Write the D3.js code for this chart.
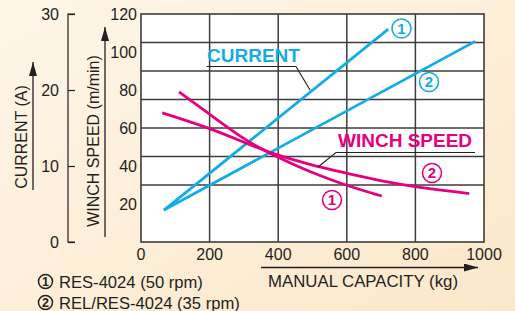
<!DOCTYPE html>
<html>
<head>
<meta charset="utf-8">
<script src="https://cdn.jsdelivr.net/npm/d3@7"></script>
<style>
  html, body { margin: 0; padding: 0; }
  body { width: 515px; height: 311px; overflow: hidden; }
  text { font-family: "Liberation Sans", Arial, Helvetica, sans-serif; }
</style>
</head>
<body>
<div id="chart"></div>
<script>
// Data
const xTicks = [0, 200, 400, 600, 800, 1000];
const winchTicks = [20, 40, 60, 80, 100, 120];
const currentTicks = [0, 10, 20, 30];
const gridRows = [105, 90, 75, 60, 45, 30]; // horizontal grid (winch units)

// current (A) vs capacity (kg)
const current1 = [[67, 4.2], [721, 28.0]];
const current2 = [[67, 4.2], [974, 26.4]];

// winch speed (m/min) vs capacity (kg)
const winch1 = [[111, 79], [200, 67.3], [300, 54], [370, 47], [450, 40.3], [520, 35], [600, 29.6], [702, 24.2]];
const winch2 = [[62, 68], [200, 60], [300, 52.5], [370, 47.3], [450, 43], [522, 39.3], [604, 36], [726, 31.2], [800, 29], [957, 25.5]];

const legendItems = ['RES-4024 (50 rpm)', 'REL/RES-4024 (35 rpm)'];

const W = 515, H = 311;
const plot = { left: 141, right: 484, top: 14, bottom: 242 };
const CYAN = '#13ace6', PINK = '#e5007f', INK = '#231f20', GRID = '#3c3c3c';

const svg = d3.select('#chart').append('svg')
  .attr('width', W).attr('height', H);

// background gradient
const defs = svg.append('defs');
const grad = defs.append('linearGradient').attr('id', 'bg')
  .attr('x1', 0).attr('y1', 0).attr('x2', 1).attr('y2', 1);
grad.append('stop').attr('offset', '0%').attr('stop-color', '#fef6e8');
grad.append('stop').attr('offset', '100%').attr('stop-color', '#fce7c9');
svg.append('rect').attr('width', W).attr('height', H).attr('fill', 'url(#bg)');

const x = d3.scaleLinear().domain([0, 1000]).range([plot.left, plot.right]);
const yW = d3.scaleLinear().domain([0, 120]).range([plot.bottom, plot.top]);
const yC = d3.scaleLinear().domain([0, 30]).range([plot.bottom, plot.top]);

// plot area
svg.append('rect')
  .attr('x', plot.left).attr('y', plot.top)
  .attr('width', plot.right - plot.left).attr('height', plot.bottom - plot.top)
  .attr('fill', '#fff');

const grid = svg.append('g').attr('stroke', GRID).attr('stroke-width', 1.5);
grid.selectAll('.v').data(xTicks.slice(1, -1)).enter().append('line')
  .attr('x1', d => x(d)).attr('x2', d => x(d))
  .attr('y1', plot.top).attr('y2', plot.bottom);
grid.selectAll('.h').data(gridRows).enter().append('line')
  .attr('x1', plot.left).attr('x2', plot.right)
  .attr('y1', d => yW(d)).attr('y2', d => yW(d));
svg.append('rect')
  .attr('x', plot.left).attr('y', plot.top)
  .attr('width', plot.right - plot.left).attr('height', plot.bottom - plot.top)
  .attr('fill', 'none').attr('stroke', GRID).attr('stroke-width', 1.6);

// x axis labels
svg.append('g').selectAll('text').data(xTicks).enter().append('text')
  .attr('x', d => x(d)).attr('y', 260)
  .attr('text-anchor', 'middle').attr('font-size', 16).attr('fill', INK)
  .text(d => d);

// winch axis labels
svg.append('g').selectAll('text').data(winchTicks).enter().append('text')
  .attr('x', 137).attr('y', d => yW(d)).attr('dy', '0.36em')
  .attr('text-anchor', 'end').attr('font-size', 16).attr('fill', INK)
  .text(d => d);

// current axis (bracket style)
const cAxis = svg.append('g')
  .attr('transform', 'translate(68,0)')
  .call(d3.axisRight(yC).tickValues(currentTicks).tickSize(7).tickFormat(''));
cAxis.select('.domain').attr('d', `M7,${plot.top}H0V${plot.bottom}H7`).attr('stroke', INK).attr('stroke-width', 1.2);
cAxis.selectAll('.tick line').attr('stroke', INK).attr('stroke-width', 1.2);
svg.append('g').selectAll('text').data(currentTicks).enter().append('text')
  .attr('x', 59).attr('y', d => yC(d)).attr('dy', '0.36em')
  .attr('text-anchor', 'end').attr('font-size', 16).attr('fill', INK)
  .text(d => d);

// arrows
const marker = defs.append('marker').attr('id', 'arrow')
  .attr('viewBox', '0 0 14 8').attr('refX', 14).attr('refY', 4)
  .attr('markerWidth', 14).attr('markerHeight', 8)
  .attr('markerUnits', 'userSpaceOnUse').attr('orient', 'auto');
marker.append('path').attr('d', 'M0,0L14,4L0,8Z').attr('fill', INK);

function arrow(x1, y1, x2, y2) {
  svg.append('line')
    .attr('x1', x1).attr('y1', y1).attr('x2', x2).attr('y2', y2)
    .attr('stroke', INK).attr('stroke-width', 1.3)
    .attr('marker-end', 'url(#arrow)');
}
arrow(33, 190, 33, 62);
arrow(105, 237, 105, 27);
arrow(261, 267.5, 478, 267.5);

// axis titles
svg.append('text')
  .attr('transform', 'translate(27,137) rotate(-90)')
  .attr('text-anchor', 'middle').attr('font-size', 16).attr('fill', INK)
  .text('CURRENT (A)');
svg.append('text')
  .attr('transform', 'translate(99,141) rotate(-90)')
  .attr('text-anchor', 'middle').attr('font-size', 16).attr('fill', INK)
  .text('WINCH SPEED (m/min)');
svg.append('text')
  .attr('x', 268).attr('y', 287)
  .attr('font-size', 16).attr('fill', INK)
  .attr('textLength', 190).attr('lengthAdjust', 'spacingAndGlyphs')
  .text('MANUAL CAPACITY (kg)');

// series lines
const lineC = d3.line().x(d => x(d[0])).y(d => yC(d[1]));
const lineW = d3.line().x(d => x(d[0])).y(d => yW(d[1])).curve(d3.curveBasis);

[current1, current2].forEach(s => {
  svg.append('path').attr('d', lineC(s))
    .attr('fill', 'none').attr('stroke', CYAN).attr('stroke-width', 2.8);
});
[winch1, winch2].forEach(s => {
  svg.append('path').attr('d', lineW(s))
    .attr('fill', 'none').attr('stroke', PINK).attr('stroke-width', 2.8);
});

// leader lines and series titles
svg.append('path').attr('d', 'M206.5,66.5H296L310,90')
  .attr('fill', 'none').attr('stroke', INK).attr('stroke-width', 1.1);
svg.append('text').attr('x', 207).attr('y', 62)
  .attr('font-size', 19).attr('font-weight', 'bold').attr('fill', CYAN)
  .text('CURRENT');
svg.append('path').attr('d', 'M318,167L336,152.5H475')
  .attr('fill', 'none').attr('stroke', INK).attr('stroke-width', 1.1);
svg.append('text').attr('x', 338).attr('y', 147)
  .attr('font-size', 19).attr('font-weight', 'bold').attr('fill', PINK)
  .text('WINCH SPEED');

// circled numbers
function badge(cx, cy, n, color, r, fs, sw) {
  const g = svg.append('g');
  g.append('circle').attr('cx', cx).attr('cy', cy).attr('r', r)
    .attr('fill', 'none').attr('stroke', color).attr('stroke-width', sw);
  g.append('text').attr('x', cx).attr('y', cy).attr('dy', '0.36em')
    .attr('text-anchor', 'middle').attr('font-size', fs).attr('font-weight', 'bold')
    .attr('fill', color).text(n);
}
badge(401.5, 28.5, 1, CYAN, 9.5, 15, 1.6);
badge(429, 82, 2, CYAN, 9.5, 15, 1.6);
badge(332, 200, 1, PINK, 9.5, 15, 1.6);
badge(432, 173, 2, PINK, 9.5, 15, 1.6);

// legend
legendItems.forEach((t, i) => {
  const cy = 281.5 + i * 21;
  badge(45.5, cy, i + 1, INK, 7, 12.5, 1.5);
  svg.append('text').attr('x', 59).attr('y', cy + 6)
    .attr('font-size', 16.6).attr('fill', INK).text(t);
});
</script>
</body>
</html>
